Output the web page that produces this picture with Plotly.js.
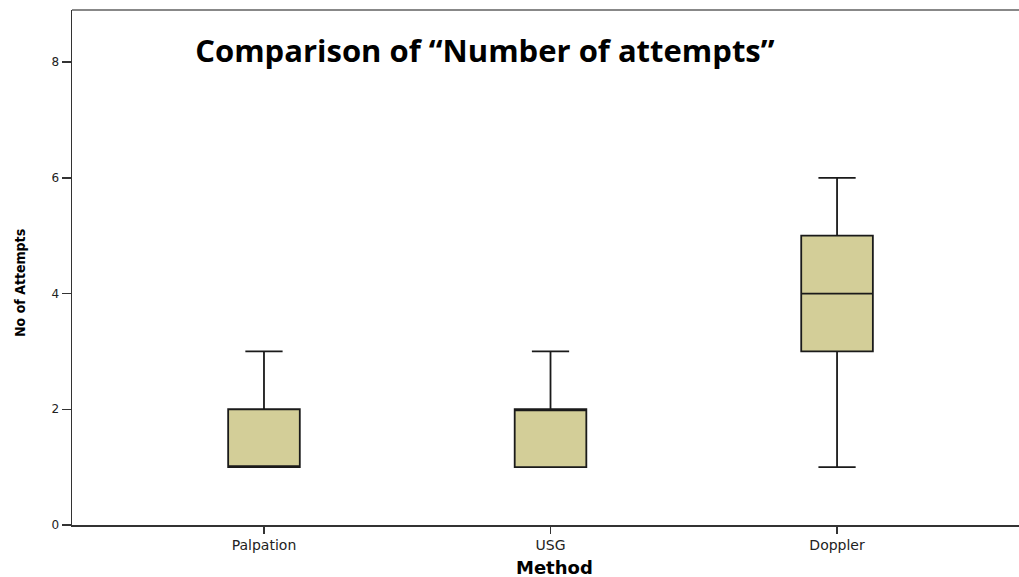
<!DOCTYPE html>
<html>
<head>
<meta charset="utf-8">
<script src="https://cdn.plot.ly/plotly-3.0.1.min.js"></script>
<style>
  html, body { margin: 0; padding: 0; background: #fff; }
  #chart { width: 1019px; height: 577px; }
</style>
</head>
<body>
<div id="chart"></div>
<script>
// Methods compared
const methods = ['Palpation', 'USG', 'Doppler'];

// Box-plot summary statistics per method
const lowerFence = [1, 1, 1];
const q1         = [1, 1, 3];
const medians    = [1, 2, 4];
const q3         = [2, 2, 5];
const upperFence = [3, 3, 6];

// Y-axis ticks
const yTicks = [0, 2, 4, 6, 8];

const boxTrace = {
  type: 'box',
  x: methods,
  lowerfence: lowerFence,
  q1: q1,
  median: medians,
  q3: q3,
  upperfence: upperFence,
  width: 0.25,
  whiskerwidth: 0.52,
  fillcolor: '#D3CE98',
  line: { color: '#1a1a1a', width: 1.8 },
  boxpoints: false,
  hoverinfo: 'skip',
  showlegend: false
};

const tickFont = { family: 'DejaVu Sans, Verdana, sans-serif', size: 12, color: '#222' };

const layout = {
  width: 1019,
  height: 577,
  margin: { l: 72, r: 0, t: 10, b: 52 },
  paper_bgcolor: '#ffffff',
  plot_bgcolor: '#ffffff',
  showlegend: false,
  title: {
    text: '<b>Comparison of \u201cNumber of attempts\u201d</b>',
    font: { family: 'Open Sans, sans-serif', size: 31, color: '#000' },
    xref: 'paper',
    x: 0.436,
    xanchor: 'center',
    yref: 'container',
    y: 0.912,
    yanchor: 'middle'
  },
  xaxis: {
    type: 'category',
    range: [-0.67, 2.635],
    showgrid: false,
    zeroline: false,
    showline: true,
    linecolor: '#333',
    linewidth: 1.5,
    ticks: 'outside',
    ticklen: 7,
    tickwidth: 1.5,
    tickcolor: '#333',
    tickfont: { family: 'DejaVu Sans, Verdana, sans-serif', size: 14, color: '#222' }
  },
  yaxis: {
    range: [0, 8.9],
    tickvals: yTicks,
    ticktext: yTicks.map(String),
    showgrid: false,
    zeroline: false,
    showline: true,
    linecolor: '#333',
    linewidth: 1.5,
    ticks: 'outside',
    ticklen: 9,
    tickwidth: 1.5,
    tickcolor: '#333',
    tickfont: tickFont
  },
  annotations: [
    {
      text: '<b>Method</b>',
      xref: 'paper', yref: 'paper',
      x: 0.509, y: 0, yshift: -42,
      xanchor: 'center', yanchor: 'middle',
      showarrow: false,
      font: { family: 'DejaVu Sans, Verdana, sans-serif', size: 18, color: '#000' }
    },
    {
      text: '<b>No of Attempts</b>',
      xref: 'paper', yref: 'paper',
      x: 0, xshift: -52, y: 0.47,
      xanchor: 'center', yanchor: 'middle',
      textangle: -90,
      showarrow: false,
      font: { family: 'DejaVu Sans Condensed, DejaVu Sans, sans-serif', size: 14, color: '#000' }
    }
  ],
  shapes: [
    {
      type: 'line', xref: 'paper', yref: 'paper',
      x0: 0, x1: 1, y0: 1, y1: 1,
      line: { color: '#888', width: 2 }
    }
  ]
};

Plotly.newPlot('chart', [boxTrace], layout, { staticPlot: true, displayModeBar: false });
</script>
</body>
</html>
